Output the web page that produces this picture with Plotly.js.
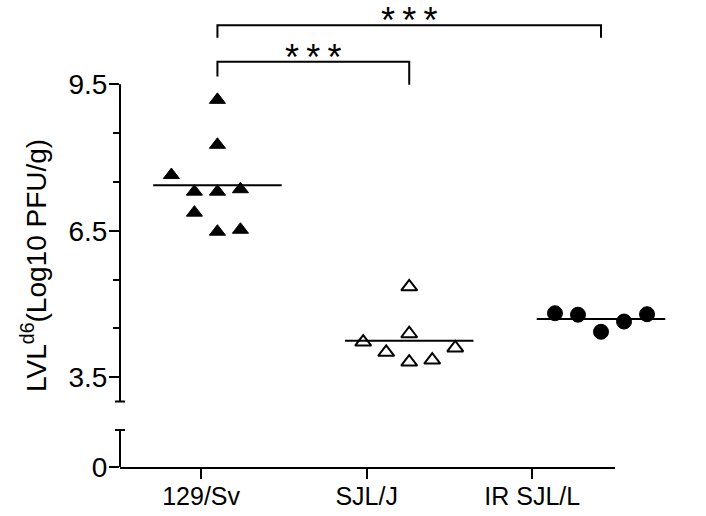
<!DOCTYPE html>
<html>
<head>
<meta charset="utf-8">
<script src="https://cdn.plot.ly/plotly-3.0.1.min.js"></script>
<style>
    body { margin: 0; background: #fff; }
    #chart { width: 706px; height: 516px; }
</style>
</head>
<body>
<div id="chart"></div>
<script>
//--- DATA ---------------------------------------------------------------------
const groups = ["129/Sv", "SJL/J", "IR SJL/L"];

// LVL d6 titres (Log10 PFU/g)
const titre_129sv = [9.18, 8.26, 7.64, 7.30, 7.30, 7.35, 6.87, 6.48, 6.52];
const titre_sjlj  = [5.35, 4.39, 4.22, 4.01, 3.81, 3.85, 4.10];
const titre_irsjl = [4.81, 4.78, 4.43, 4.64, 4.79];

// horizontal scatter slot of each point inside its column
const slot_129sv = [0, 0, -2, -1, 0, 1, -1, 0, 1];
const slot_sjlj  = [0, 0, -2, -1, 0, 1, 2];
const slot_irsjl = [-2, -1, 0, 1, 2];

const yTickVals  = [3.5, 6.5, 9.5];
const yMinorVals = [4.5, 5.5, 7.5, 8.5];

// significance brackets: [from group, to group, label]
const brackets = [
    [0, 1, "*\u2009*\u2009*"],
    [0, 2, "*\u2009*\u2009*"]
];

//--- LAYOUT HELPERS -----------------------------------------------------------
const W = 706, H = 516;
const margin = { l: 120, r: 16, t: 10, b: 49 };
const plotW = W - margin.l - margin.r;
const plotH = H - margin.t - margin.b;
const unitPx = 48.83;            // pixels per log unit on both y segments

const y2Range = [2.8, 11.02];    // upper segment (data + brackets)
const yRange  = [0, 0.85];       // lower segment (only the 0 tick)
const y2Domain = [1 - (y2Range[1] - y2Range[0]) * unitPx / plotH, 1];
const yDomain  = [0, (yRange[1] - yRange[0]) * unitPx / plotH];

const upperAxisFrom = 3.0, upperAxisTo = 9.5;
const lowerAxisTo = 0.76;
const capHalf = 5 / plotW;

const slotStep = 0.12;
const meanHalf = 0.335;
const black = "#000000";
const font = "Arial, 'Liberation Sans', sans-serif";

function mean(arr) {
    return arr.reduce((a, b) => a + b, 0) / arr.length;
}

//--- TRACES -------------------------------------------------------------------
const series = [
    { y: titre_129sv, slot: slot_129sv, symbol: "triangle-up",      size: 14 },
    { y: titre_sjlj,  slot: slot_sjlj,  symbol: "triangle-up-open", size: 14 },
    { y: titre_irsjl, slot: slot_irsjl, symbol: "circle",           size: 15 }
];

const traces = [];
series.forEach((s, i) => {
    traces.push({
        x: s.slot.map(k => i + k * slotStep),
        y: s.y,
        xaxis: "x2",
        yaxis: "y2",
        mode: "markers",
        type: "scatter",
        name: groups[i],
        marker: {
            symbol: s.symbol,
            size: s.size,
            color: black,
            line: { color: black, width: s.symbol.endsWith("open") ? 2 : 1 }
        },
        cliponaxis: false,
        showlegend: false
    });
    // mean line
    const m = mean(s.y);
    traces.push({
        x: [i - meanHalf, i + meanHalf],
        y: [m, m],
        xaxis: "x2",
        yaxis: "y2",
        mode: "lines",
        type: "scatter",
        line: { color: black, width: 2 },
        hoverinfo: "skip",
        showlegend: false
    });
});

//--- SHAPES (broken y axis, brackets) -----------------------------------------
const lineStyle = { color: black, width: 2 };
const shapes = [
    // upper segment of y axis with its end cap
    { type: "line", xref: "paper", yref: "y2", x0: 0, x1: 0,
      y0: upperAxisFrom, y1: upperAxisTo, line: lineStyle },
    { type: "line", xref: "paper", yref: "y2", x0: -capHalf, x1: capHalf,
      y0: upperAxisFrom, y1: upperAxisFrom, line: lineStyle },
    // lower segment of y axis with its end cap
    { type: "line", xref: "paper", yref: "y", x0: 0, x1: 0,
      y0: 0, y1: lowerAxisTo, line: lineStyle },
    { type: "line", xref: "paper", yref: "y", x0: -capHalf, x1: capHalf,
      y0: lowerAxisTo, y1: lowerAxisTo, line: lineStyle }
];

// bracket heights: [top, left leg end, right leg end]
const bracketY = [
    [9.96, 9.66, 9.49],
    [10.71, 10.45, 10.45]
];

const annotations = [];
brackets.forEach((b, k) => {
    const [top, legL, legR] = bracketY[k];
    shapes.push({
        type: "path", xref: "x2", yref: "y2",
        path: `M ${b[0]},${legL} L ${b[0]},${top} L ${b[1]},${top} L ${b[1]},${legR}`,
        line: lineStyle
    });
    annotations.push({
        x: (b[0] + b[1]) / 2, y: top,
        xref: "x2", yref: "y2",
        text: b[2], showarrow: false,
        xanchor: "center", yanchor: "bottom",
        yshift: -17,
        borderpad: 0,
        font: { family: font, size: 36, color: black }
    });
});

// y axis title (spans the broken axis, so kept as a rotated annotation)
annotations.push({
    x: (34 - margin.l) / plotW,
    y: (H - margin.b - 266) / plotH,
    xref: "paper", yref: "paper",
    text: "LVL<sup>d6</sup>(Log10 PFU/g)",
    textangle: -90, showarrow: false,
    xanchor: "center", yanchor: "middle",
    font: { family: font, size: 28, color: black }
});

//--- LAYOUT -------------------------------------------------------------------
const tickFont  = { family: font, size: 25, color: black };
const yTickFont = { family: font, size: 28, color: black };

const layout = {
    width: W,
    height: H,
    margin: margin,
    paper_bgcolor: "#ffffff",
    plot_bgcolor: "#ffffff",
    showlegend: false,
    // x axis with the group labels (shorter than the data area, as in the figure)
    xaxis: {
        type: "linear",
        domain: [0, (615 - margin.l) / plotW],
        range: [-0.49, 2.5],
        anchor: "y",
        tickvals: [0, 1, 2],
        ticktext: groups,
        ticks: "outside",
        ticklen: 10,
        tickwidth: 2,
        tickcolor: black,
        ticklabelstandoff: -4,
        showline: true,
        linewidth: 2,
        linecolor: black,
        showgrid: false,
        zeroline: false,
        tickfont: tickFont
    },
    // hidden x axis the points are placed on
    xaxis2: {
        domain: [0, 1],
        range: [-0.508, 2.464],
        anchor: "y2",
        visible: false,
        showgrid: false,
        zeroline: false
    },
    yaxis: {
        domain: yDomain,
        range: yRange,
        anchor: "x",
        tickvals: [0],
        ticktext: ["0"],
        ticks: "outside",
        ticklen: 10,
        tickwidth: 2,
        tickcolor: black,
        ticklabelstandoff: -4,
        showline: false,
        showgrid: false,
        zeroline: false,
        tickfont: yTickFont
    },
    yaxis2: {
        domain: y2Domain,
        range: y2Range,
        anchor: "x",
        tickvals: yTickVals,
        ticktext: yTickVals.map(v => v.toFixed(1)),
        ticks: "outside",
        ticklen: 10,
        tickwidth: 2,
        tickcolor: black,
        ticklabelstandoff: -4,
        minor: {
            tickmode: "array",
            tickvals: yMinorVals,
            ticks: "outside",
            ticklen: 6,
            tickwidth: 2,
            tickcolor: black
        },
        showline: false,
        showgrid: false,
        zeroline: false,
        tickfont: yTickFont
    },
    shapes: shapes,
    annotations: annotations
};

Plotly.newPlot("chart", traces, layout, { displayModeBar: false, staticPlot: true });
</script>
</body>
</html>
